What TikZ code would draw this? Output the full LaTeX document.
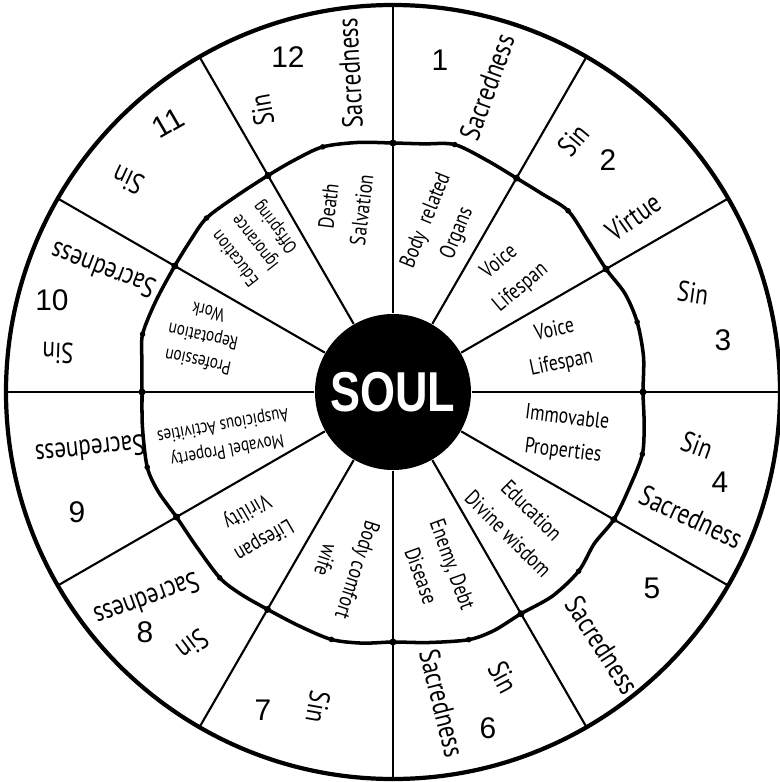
\documentclass[tikz,border=0pt]{standalone}
\usepackage{fontspec}
\newfontfamily\labfont{PT Sans}
\newfontfamily\numfont{Liberation Sans}
\newfontfamily\soulfont{Liberation Sans}
\newcommand\nar[1]{\scalebox{0.8}[1]{#1}}

\begin{document}
\begin{tikzpicture}[
  outer/.style={font=\fontsize{8.2}{9}\labfont, inner sep=0pt},
  inner/.style={font=\fontsize{6.3}{9.5}\labfont, align=center, inner sep=0pt},
  small/.style={font=\fontsize{5.4}{7.2}\labfont, align=center, inner sep=0pt},
  num/.style={font=\fontsize{8.5}{9}\numfont, inner sep=0pt}
]
\useasboundingbox (-3.93,-3.90) rectangle (3.87,3.92);

\draw[line width=1.2pt] (0,0) circle (3.87);
\node[circle, fill=black, minimum size=1.56cm, inner sep=0pt, text=white,
  font=\fontsize{16}{16}\soulfont\bfseries] (soul) at (0,0) {\nar{SOUL}};
\foreach \a in {0,30,...,330}
  \draw[line width=0.6pt] (soul.\a) -- (\a:3.87);

% wavy ring
\draw[line width=1pt, line join=round] plot[smooth cycle, tension=0.5] coordinates {
  (90:2.49) (83:2.50) (76:2.55) (68:2.50) (60:2.47) (53:2.48) (46:2.52) (38:2.47)
  (30:2.46) (23:2.52) (16:2.54) (8:2.53) (0:2.50) (-7:2.53) (-14:2.57) (-22:2.55)
  (-30:2.55) (-37:2.52) (-44:2.58) (-52:2.59) (-60:2.56) (-67:2.59) (-73:2.59) (-82:2.53)
  (-90:2.50) (-97:2.53) (-104:2.55) (-112:2.52) (-120:2.51) (-127:2.53) (-133:2.54) (-142:2.50)
  (-150:2.50) (-157:2.55) (-163:2.57) (-172:2.53) (-180:2.51) (-187:2.53) (-193:2.57) (-201:2.54)
  (-210:2.52) (-217:2.53) (-223:2.55) (-231:2.51) (-240:2.50) (-247:2.52) (-254:2.55) (-262:2.52)};
\foreach \a/\r in {90/2.49,60/2.47,30/2.46,0/2.50,-30/2.55,-60/2.56,-90/2.50,-120/2.51,-150/2.50,180/2.51,150/2.52,120/2.50}
  \fill (\a:\r) circle (0.035);
\foreach \a/\r in {76/2.55,46/2.52,16/2.54,-14/2.57,-44/2.58,-73/2.59,-104/2.55,-133/2.54,-163/2.57,167/2.57,137/2.55,106/2.55}
  \fill (\a:\r) circle (0.028);

% outer ring
\node[num] (n1) at (0.47,3.32) {1};
\node[outer, rotate=70] (sac1) at (0.94,3.05) {\nar{Sacredness}};
\node[outer, rotate=50] (sin2) at (1.80,2.52) {\nar{Sin}};
\node[num] (n2) at (2.15,2.32) {2};
\node[outer, rotate=35] (vir2) at (2.40,1.75) {\nar{Virtue}};
\node[outer, rotate=-8] (sin3) at (3.00,0.99) {\nar{Sin}};
\node[num] (n3) at (3.30,0.52) {3};
\node[outer, rotate=-20] (sin4) at (3.04,-0.53) {\nar{Sin}};
\node[num] (n4) at (3.27,-0.90) {4};
\node[outer, rotate=-25] (sac4) at (2.98,-1.25) {\nar{Sacredness}};
\node[num] (n5) at (2.59,-1.96) {5};
\node[outer, rotate=-57] (sac5) at (2.09,-2.53) {\nar{Sacredness}};
\node[outer, rotate=-62] (sin6) at (1.10,-2.85) {\nar{Sin}};
\node[num] (n6) at (0.95,-3.36) {6};
\node[outer, rotate=-76] (sac6) at (0.49,-3.11) {\nar{Sacredness}};
\node[num] (n7) at (-1.30,-3.18) {7};
\node[outer, rotate=-100] (sin7) at (-0.75,-3.15) {\nar{Sin}};
\node[outer, rotate=200] (sac8) at (-2.46,-2.08) {\nar{Sacredness}};
\node[num] (n8) at (-2.48,-2.40) {8};
\node[outer, rotate=217] (sin8) at (-2.00,-2.53) {\nar{Sin}};
\node[outer, rotate=186] (sac9) at (-3.03,-0.58) {\nar{Sacredness}};
\node[num] (n9) at (-3.16,-1.20) {9};
\node[outer, rotate=159] (sac10) at (-2.90,1.22) {\nar{Sacredness}};
\node[num] (n10) at (-3.41,0.92) {10};
\node[outer, rotate=178] (sin10) at (-3.35,0.39) {\nar{Sin}};
\node[num, rotate=30] (n11) at (-2.25,2.69) {11};
\node[outer, rotate=155] (sin11) at (-2.65,2.12) {\nar{Sin}};
\node[num] (n12) at (-1.05,3.35) {12};
\node[outer, rotate=100] (sin12) at (-1.31,2.82) {\nar{Sin}};
\node[outer, rotate=93] (sac12) at (-0.43,3.19) {\nar{Sacredness}};

% inner ring
\node[inner, rotate=68] (h1) at (0.49,1.65) {\nar{Body\ \ related}\\\nar{Organs}};
\node[inner, rotate=40] (h2) at (1.17,1.17) {\nar{Voice}\\\nar{Lifespan}};
\node[inner, rotate=12] (h3) at (1.65,0.45) {\nar{Voice}\\\nar{Lifespan}};
\node[inner, rotate=-7] (h4) at (1.72,-0.43) {\nar{Immovable}\\\nar{Properties}};
\node[inner, rotate=-45] (h5) at (1.27,-1.30) {\nar{Education}\\\nar{Divine wisdom}};
\node[inner, rotate=-70] (h6) at (0.44,-1.78) {\nar{Enemy, Debt}\\\nar{Disease}};
\node[inner, rotate=-108] (h7) at (-0.51,-1.73) {\nar{Body comfort}\\\nar{wife}};
\node[inner, rotate=210] (h8) at (-1.38,-1.33) {\nar{Lifespan}\\\nar{Virility}};
\node[small, rotate=190] (h9) at (-1.68,-0.45) {\nar{Movabel Property}\\\nar{Auspicious Activities}};
\node[small, rotate=168] (h10) at (-1.90,0.55) {\nar{Profession}\\\nar{Repotation}\\\nar{Work}};
\node[small, rotate=128] (h11) at (-1.37,1.50) {\nar{Education}\\\nar{Ignorance}\\\nar{Offspring}};
\node[inner, rotate=83] (h12) at (-0.48,1.84) {\nar{Death}\\\nar{Salvation}};
\end{tikzpicture}
\end{document}
